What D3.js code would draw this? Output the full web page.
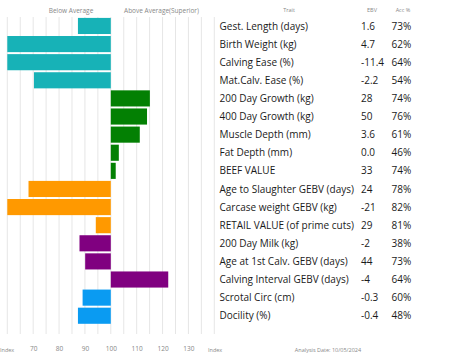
<!DOCTYPE html>
<html><head><meta charset="utf-8">
<script src="https://cdn.jsdelivr.net/npm/d3@7"></script>
<style>
html,body{margin:0;padding:0;background:#fff;}
svg{display:block;}
</style></head>
<body>
<svg id="chart" width="453" height="362"></svg>
<script>
const traits = ["Gest. Length (days)","Birth Weight (kg)","Calving Ease (%)","Mat.Calv. Ease (%)","200 Day Growth (kg)","400 Day Growth (kg)","Muscle Depth (mm)","Fat Depth (mm)","BEEF VALUE","Age to Slaughter GEBV (days)","Carcase weight GEBV (kg)","RETAIL VALUE (of prime cuts)","200 Day Milk (kg)","Age at 1st Calv. GEBV (days)","Calving Interval GEBV (days)","Scrotal Circ (cm)","Docility (%)"];
const ebv = ["1.6","4.7","-11.4","-2.2","28","50","3.6","0.0","33","24","-21","29","-2","44","-4","-0.3","-0.4"];
const acc = ["73%","62%","64%","54%","74%","76%","61%","46%","74%","78%","82%","81%","38%","73%","64%","60%","48%"];
const indexValues = [87.3,60,60,70.3,115.1,114,111.2,103.1,101.9,68.2,60,94.2,87.9,90.1,122.2,89.1,87.3];
const groups = ["calving","calving","calving","calving","growth","growth","growth","growth","growth","carcase","carcase","carcase","maternal","maternal","maternal","other","other"];
const groupColors = {calving:"#17b2b7",growth:"#038003",carcase:"#ff9900",maternal:"#800080",other:"#0a9bf2"};
const tickValues = [70,80,90,100,110,120,130];

const svg = d3.select("#chart");
const font = "'Open Sans', sans-serif";

const x = d3.scaleLinear().domain([60,140]).range([7.3,214.3]);
const y = d3.scaleBand().domain(traits).range([17,17+18.1*traits.length]).paddingInner(0.11).paddingOuter(0.05);

// gridlines
svg.append("g").selectAll("line").data(d3.range(60,141,5)).join("line")
  .attr("x1",d=>x(d)).attr("x2",d=>x(d))
  .attr("y1",17).attr("y2",334)
  .attr("stroke","#e6e6e6").attr("stroke-width",1);

// bars
svg.append("g").selectAll("rect").data(traits).join("rect")
  .attr("x",(d,i)=>x(Math.min(indexValues[i],100)))
  .attr("width",(d,i)=>Math.abs(x(indexValues[i])-x(100)))
  .attr("y",d=>y(d))
  .attr("height",y.bandwidth())
  .attr("fill",(d,i)=>groupColors[groups[i]]);

// axis tick labels
const axis = d3.axisBottom(x).tickValues(tickValues).tickSize(0).tickFormat(d3.format("d"));
const ag = svg.append("g").attr("transform","translate(0,343)").call(axis);
ag.select(".domain").remove();
ag.selectAll("text").attr("fill","#888").attr("font-size","6.5px").attr("font-family",font);

// headers
const small = {fill:"#888","font-size":"6.5px","font-family":font};
function txt(t,xx,yy,anchor,st){
  const e = svg.append("text").text(t).attr("x",xx).attr("y",yy).attr("text-anchor",anchor);
  for(const k in st) e.attr(k,st[k]);
  return e;
}
txt("Below Average",71,13,"middle",small);
txt("Above Average(Superior)",161.5,13,"middle",small);
txt("Trait",289,12,"middle",small).attr("font-size","5.5px");
txt("EBV",372,12,"middle",small).attr("font-size","5.5px");
txt("Acc %",403,12,"middle",small).attr("font-size","5.5px");
txt("Index",0,352,"start",small).attr("font-size","5.5px");
txt("Index",208,352,"start",small).attr("font-size","5.5px");
txt("Analysis Date: 10/05/2024",328,352,"middle",small).attr("font-size","5.5px");

// trait table
const rows = svg.append("g").selectAll("g").data(traits).join("g")
  .attr("transform",d=>`translate(0,${y(d)+y.bandwidth()/2+3.6})`);
const big = {fill:"#1a1a1a","font-size":"10px","font-family":font};
rows.each(function(d,i){
  const g = d3.select(this);
  for(const [t,xx] of [[d,219.5],[ebv[i],361],[acc[i],391.5]]){
    const e = g.append("text").text(t).attr("x",xx).attr("y",0);
    for(const k in big) e.attr(k,big[k]);
  }
});
</script>
</body></html>
